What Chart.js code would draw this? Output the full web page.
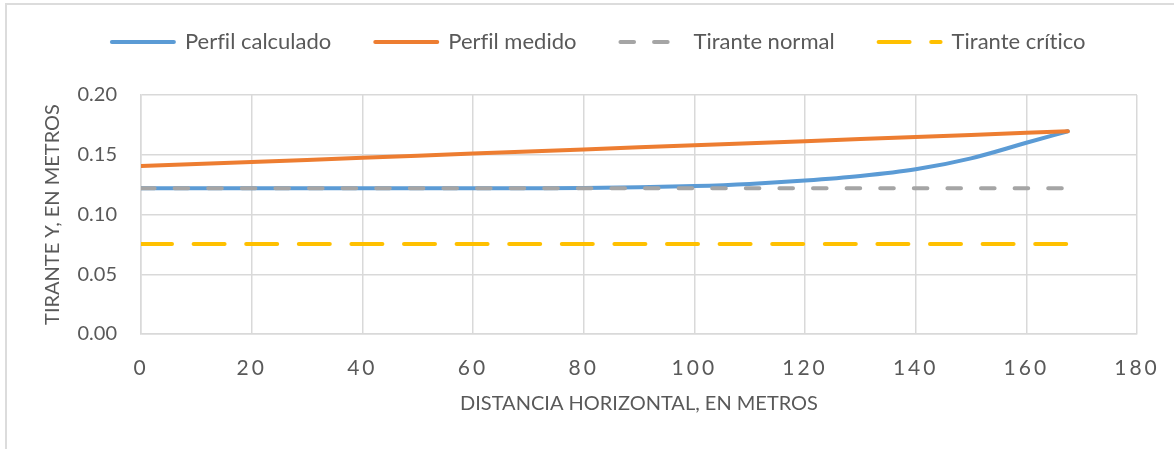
<!DOCTYPE html>
<html><head><meta charset="utf-8">
<script src="https://cdn.jsdelivr.net/npm/chart.js@4.4.0/dist/chart.umd.min.js"></script>
<style>
html,body{margin:0;padding:0;background:#fff;width:1174px;height:449px;overflow:hidden;}
#frame{position:absolute;left:5px;top:3px;width:1300px;height:600px;border-left:2px solid #dcdcdc;border-top:2px solid #dcdcdc;}
#wrap{position:absolute;left:0;top:0;width:1174px;height:449px;}
</style></head><body>
<div id="frame"></div>
<div id="wrap"><canvas id="c"></canvas></div>
<script>
const distancia = [0, 10, 20, 30, 40, 50, 60, 70, 80, 90, 100, 110, 120, 130, 140, 150, 160, 167.5];
const perfilCalculado = [0.1219, 0.1219, 0.1219, 0.1219, 0.1219, 0.1219, 0.1219, 0.1220, 0.1222, 0.1228, 0.1238, 0.1256, 0.1284, 0.1322, 0.1378, 0.1470, 0.1600, 0.1697];
const perfilMedido = [0.1405, 0.1422, 0.1440, 0.1457, 0.1475, 0.1492, 0.1510, 0.1527, 0.1544, 0.1562, 0.1579, 0.1597, 0.1614, 0.1632, 0.1649, 0.1666, 0.1684, 0.1697];
const tiranteX = [0, 167.5];
const tiranteNormal = [0.1219, 0.1219];
const tiranteCritico = [0.0753, 0.0753];
const seriesNames = ['Perfil calculado', 'Perfil medido', 'Tirante normal', 'Tirante crítico'];
const xTicks = [0, 20, 40, 60, 80, 100, 120, 140, 160, 180];
const yTicks = [0.00, 0.05, 0.10, 0.15, 0.20];
const xTitle = 'DISTANCIA HORIZONTAL, EN METROS';
const yTitle = 'TIRANTE Y, EN METROS';

const pts = (xs, ys) => xs.map((x, i) => ({x, y: ys[i]}));
const TXT = '#595959';
const GRID = '#d9d9d9';
const FONT = 'Lato';

const helperPlugin = {
  id: 'helperPlugin',
  afterLayout(chart) {
    const l = chart.legend; const dx = 30, dy = -32;
    l.left += dx; l.right += dx; l.top += dy; l.bottom += dy;
  },
  beforeDraw(chart) {
    chart.ctx.textRendering = 'optimizeSpeed';
  }
};

const common = {fill: false, pointRadius: 0, pointHoverRadius: 0, borderWidth: 4, borderCapStyle: 'round', borderJoinStyle: 'round'};
const chart = new Chart(document.getElementById('c'), {
  type: 'line',
  data: {
    datasets: [
      Object.assign({label: seriesNames[0], data: pts(distancia, perfilCalculado), borderColor: '#5B9BD5', backgroundColor: '#5B9BD5', cubicInterpolationMode: 'monotone', order: 4}, common),
      Object.assign({label: seriesNames[1], data: pts(distancia, perfilMedido), borderColor: '#ED7D31', backgroundColor: '#ED7D31', order: 3}, common),
      Object.assign({label: seriesNames[2], data: pts(tiranteX, tiranteNormal), borderColor: '#A5A5A5', backgroundColor: '#A5A5A5', borderDash: [13.6, 20], order: 2}, common),
      Object.assign({label: seriesNames[3], data: pts(tiranteX, tiranteCritico), borderColor: '#FFC000', backgroundColor: '#FFC000', borderDash: [31, 21.6], order: 1}, common)
    ]
  },
  options: {
    responsive: true, maintainAspectRatio: false, animation: false,
    layout: {padding: {left: 0, right: 37, top: 19, bottom: 0}},
    plugins: {
      tooltip: {enabled: false},
      legend: {
        position: 'top',
        labels: {
          usePointStyle: true, pointStyle: 'line', pointStyleWidth: 62, boxHeight: 22,
          padding: 44, color: TXT, font: {family: FONT, size: 22},
          sort: (a, b) => a.datasetIndex - b.datasetIndex,
          generateLabels: (ch) => {
            const items = Chart.defaults.plugins.legend.labels.generateLabels(ch);
            items.forEach(it => {
              const ds = ch.data.datasets[it.datasetIndex];
              it.lineDash = ds.borderDash || [];
              it.lineCap = 'round';
              it.lineWidth = 4;
              it.strokeStyle = ds.borderColor;
            });
            return items;
          }
        }
      }
    },
    scales: {
      x: {
        type: 'linear', min: 0, max: 180,
        afterBuildTicks: s => { s.ticks = xTicks.map(v => ({value: v})); },
        afterFit: s => {
          s.height = 115; s.paddingLeft = 0; s.paddingRight = 0;
          if (!s._lsWrapped) {
            const orig = s.drawLabels;
            s.drawLabels = function (area) {
              const ctx = this.ctx; ctx.save(); ctx.letterSpacing = '3px';
              orig.call(this, area); ctx.restore();
            };
            s._lsWrapped = true;
          }
        },
        grid: {color: GRID, lineWidth: 1.5, drawTicks: false},
        border: {color: GRID, width: 1.5},
        ticks: {padding: 22, color: TXT, font: {family: FONT, size: 21}, maxRotation: 0, callback: v => String(v)},
        title: {display: true, text: xTitle, color: TXT, font: {family: FONT, size: 20}, padding: {top: 0, bottom: 33}}
      },
      y: {
        min: 0, max: 0.2,
        afterBuildTicks: s => { s.ticks = yTicks.map(v => ({value: v})); },
        afterFit: s => { s.width = 141; },
        grid: {color: GRID, lineWidth: 1.5, drawTicks: false},
        border: {color: GRID, width: 1.5},
        ticks: {padding: 24, color: TXT, font: {family: FONT, size: 20}, callback: v => Number(v).toFixed(2)},
        title: {display: true, text: yTitle, color: TXT, font: {family: FONT, size: 20}, padding: {top: 41, bottom: 0}}
      }
    }
  },
  plugins: [helperPlugin]
});
</script>
</body></html>
